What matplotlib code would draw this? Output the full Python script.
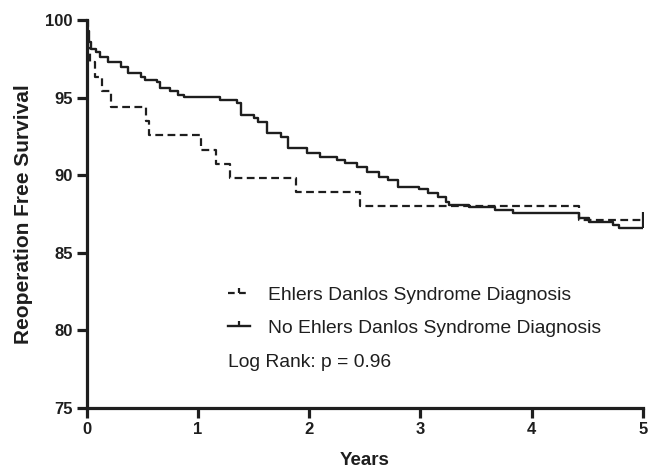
import numpy as np
import matplotlib.pyplot as plt
from matplotlib.path import Path
from matplotlib.lines import Line2D

plt.rcParams['font.family'] = ['Liberation Sans', 'DejaVu Sans']

# Kaplan-Meier step data (years, % free of reoperation)
eds_t = [0, 0.01, 0.03, 0.07, 0.14, 0.22, 0.53, 0.56, 1.03, 1.16, 1.29, 1.88, 2.46, 4.43, 5.0]
eds_s = [100, 98.2, 97.3, 96.3, 95.4, 94.4, 93.5, 92.6, 91.6, 90.7, 89.8, 88.9, 88.0, 87.1, 87.1]

no_t = [0, 0.005, 0.02, 0.04, 0.08, 0.12, 0.19, 0.31, 0.37, 0.49, 0.52, 0.63, 0.66, 0.75,
        0.82, 0.87, 1.2, 1.35, 1.39, 1.5, 1.54, 1.62, 1.75, 1.81, 1.98, 2.1, 2.25, 2.32,
        2.43, 2.52, 2.63, 2.71, 2.8, 2.99, 3.07, 3.16, 3.23, 3.26, 3.44, 3.67, 3.83, 4.43,
        4.52, 4.73, 4.79, 5.0]
no_s = [100, 99.3, 98.6, 98.1, 97.95, 97.64, 97.31, 96.99, 96.56, 96.35, 96.13, 96.03, 95.6,
        95.44, 95.17, 95.02, 94.85, 94.63, 93.88, 93.67, 93.45, 92.7, 92.48, 91.73, 91.41,
        91.2, 90.98, 90.77, 90.55, 90.23, 89.9, 89.69, 89.26, 89.09, 88.87, 88.61, 88.29,
        88.08, 87.97, 87.76, 87.54, 87.22, 87.0, 86.79, 86.58, 86.58]

labels = ['Ehlers Danlos Syndrome Diagnosis', 'No Ehlers Danlos Syndrome Diagnosis']
p_text = 'Log Rank: p = 0.96'

# censor tick: short line going up from the curve
tick = Path([(0, 0), (0, 1)], [Path.MOVETO, Path.LINETO])
ink = '#1e1e1e'

fig = plt.figure(figsize=(6.48, 4.71), dpi=100)
ax = fig.add_axes([0.134, 0.134, 0.858, 0.8235])

ax.step(eds_t, eds_s, where='post', color=ink, lw=1.6, ls=(0, (3.5, 2)))
ax.step(no_t, no_s, where='post', color=ink, lw=1.7)
ax.plot(eds_t[-1], eds_s[-1], marker=tick, ms=12, mew=1.6, color=ink, ls='none')
ax.plot(no_t[-1], no_s[-1], marker=tick, ms=12, mew=1.6, color=ink, ls='none')

ax.set_xlim(0, 5)
ax.set_ylim(75, 100)
ax.set_xticks(range(0, 6))
ax.set_yticks([75, 80, 85, 90, 95, 100])

for s in ['top', 'right']:
    ax.spines[s].set_visible(False)
for s in ['left', 'bottom']:
    ax.spines[s].set_linewidth(2.3)
    ax.spines[s].set_color(ink)
ax.tick_params(width=2.3, length=7, color=ink, labelsize=12, pad=3)
for lb in ax.get_xticklabels() + ax.get_yticklabels():
    lb.set_fontweight('bold')
    lb.set_color(ink)

ax.set_xlabel('Years', fontsize=13.5, fontweight='bold', labelpad=11, color=ink)
ax.set_ylabel('Reoperation Free Survival', fontsize=15, fontweight='bold', labelpad=9,
              color=ink)

handles = [Line2D([0], [0], color=ink, lw=1.6, ls=(0, (3, 2)), marker=tick,
                  ms=7, mew=1.6),
           Line2D([0], [0], color=ink, lw=1.7, marker=tick, ms=7, mew=1.6)]
leg = ax.legend(handles, labels, loc='upper left', bbox_to_anchor=(0.254, 0.313),
                frameon=False, fontsize=13.9, handlelength=1.14, handletextpad=0.93,
                labelspacing=0.78, borderaxespad=0, borderpad=0)
for t in leg.get_texts():
    t.set_color(ink)
ax.text(0.254, 0.116, p_text, transform=ax.transAxes, fontsize=13.9, va='center',
        color=ink)

fig.savefig('out.png', dpi=100)
